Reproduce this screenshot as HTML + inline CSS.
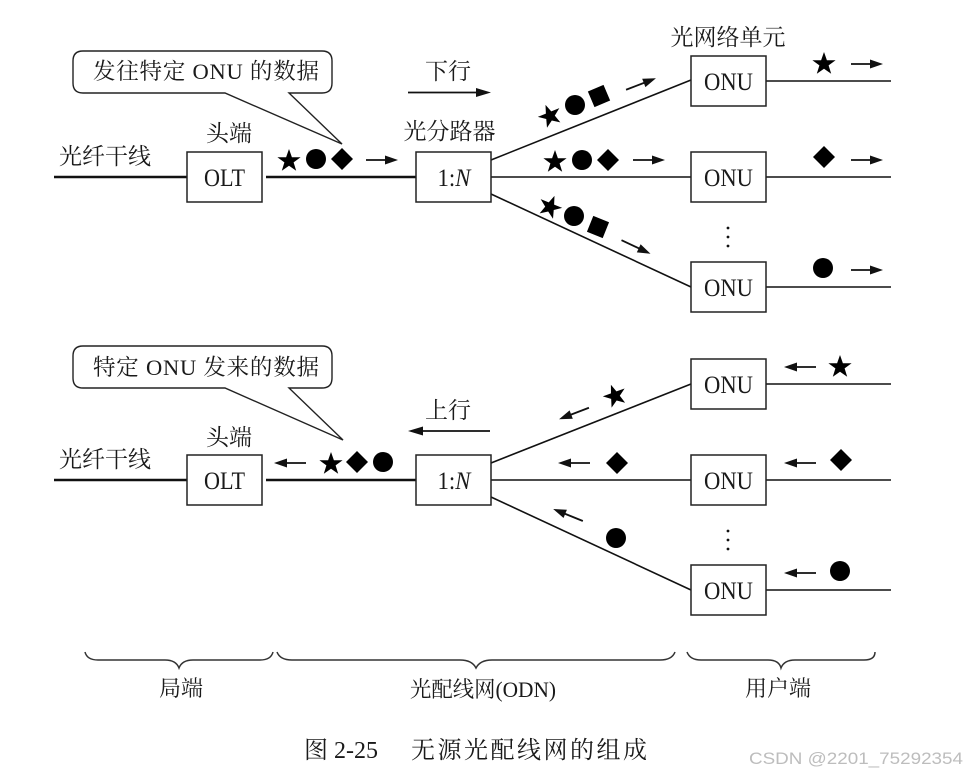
<!DOCTYPE html>
<html><head><meta charset="utf-8"><style>
html,body{margin:0;padding:0;background:#fff}
svg{display:block}
text{font-family:"Liberation Serif","Noto Serif CJK SC",serif;fill:#1a1a1a;font-size:23px}
.m{text-anchor:middle}
.n{font-size:25px}
.l{stroke:#111;fill:none;stroke-width:1.6}
.t{stroke:#111;fill:none;stroke-width:2.6}
.b{stroke:#222;fill:#fff;stroke-width:1.5}
.c{stroke:#333;fill:none;stroke-width:1.5}
</style></head><body>
<svg width="966" height="775" viewBox="0 0 966 775" xmlns="http://www.w3.org/2000/svg">
<defs>
<polygon id="s" points="0,-12 2.9,-3.8 11.6,-3.8 4.6,1.4 7.2,9.8 0,4.8 -7.2,9.8 -4.6,1.4 -11.6,-3.8 -2.9,-3.8" fill="#000"/>
<circle id="o" r="10" fill="#000"/>
<polygon id="d" points="0,-11 11,0 0,11 -11,0" fill="#000"/>
<g id="a"><line x1="-16" y1="0" x2="6" y2="0" stroke="#111" stroke-width="1.8"/><polygon points="3,-4.500 16,0 3,4.500" fill="#111"/></g>
<path id="box" d="M0 0h75v50h-75z" class="b"/>
</defs>

<!-- TOP -->
<path d="M83 51H322Q332 51 332 61V83Q332 93 322 93H289L342 144L225 93H83Q73 93 73 83V61Q73 51 83 51Z" fill="#fff" stroke="#222" stroke-width="1.4"/>
<text x="93" y="79" style="font-size:22.5px" textLength="226">发往特定 ONU 的数据</text>
<text x="448" y="79" class="m">下行</text>
<line x1="408" y1="92.500" x2="480" y2="92.500" stroke="#111" stroke-width="1.8"/><polygon points="476,88 491,92.500 476,97" fill="#111"/>
<text x="229" y="141" class="m">头端</text>
<text x="105" y="164" class="m">光纤干线</text>
<text x="449.500" y="139" class="m">光分路器</text>
<text x="728" y="45" class="m">光网络单元</text>

<line x1="54" y1="177" x2="187" y2="177" class="t"/>
<line x1="266" y1="177" x2="416" y2="177" class="t"/>
<line x1="491" y1="160" x2="691" y2="80" class="l"/>
<line x1="491" y1="177" x2="691" y2="177" class="l"/>
<line x1="491" y1="194" x2="691" y2="287" class="l"/>
<line x1="766" y1="81" x2="891" y2="81" class="l"/>
<line x1="766" y1="177" x2="891" y2="177" class="l"/>
<line x1="766" y1="287" x2="891" y2="287" class="l"/>

<use href="#box" x="187" y="152"/><text x="224.500" y="186" class="m n" textLength="41" lengthAdjust="spacingAndGlyphs">OLT</text>
<use href="#box" x="416" y="152"/><text x="454" y="186" class="m n" textLength="33" lengthAdjust="spacingAndGlyphs">1:<tspan font-style="italic">N</tspan></text>
<use href="#box" x="691" y="56"/><text x="728.500" y="90" class="m n" textLength="49" lengthAdjust="spacingAndGlyphs">ONU</text>
<use href="#box" x="691" y="152"/><text x="728.500" y="186" class="m n" textLength="49" lengthAdjust="spacingAndGlyphs">ONU</text>
<use href="#box" x="691" y="262"/><text x="728.500" y="296" class="m n" textLength="49" lengthAdjust="spacingAndGlyphs">ONU</text>

<use href="#s" x="289" y="161"/><use href="#o" x="316" y="159"/><use href="#d" x="342" y="159"/>
<use href="#a" x="382" y="160"/>
<g transform="translate(550,116) rotate(-22)"><use href="#s"/></g>
<use href="#o" x="575" y="105"/>
<g transform="translate(599,96) rotate(-23) scale(.85)"><rect x="-10" y="-10" width="20" height="20" fill="#000"/></g>
<g transform="translate(641,84) rotate(-21)"><use href="#a"/></g>
<use href="#s" x="555" y="162"/><use href="#o" x="582" y="160"/><use href="#d" x="608" y="160"/>
<use href="#a" x="649" y="160"/>
<g transform="translate(550,207) rotate(22)"><use href="#s"/></g>
<use href="#o" x="574" y="216"/>
<g transform="translate(598,227) rotate(22) scale(.85)"><rect x="-10" y="-10" width="20" height="20" fill="#000"/></g>
<g transform="translate(636,247) rotate(25)"><use href="#a"/></g>
<use href="#s" x="824" y="64"/><use href="#a" x="867" y="64"/>
<use href="#d" x="824" y="157"/><use href="#a" x="867" y="160"/>
<use href="#o" x="823" y="268"/><use href="#a" x="867" y="270"/>
<g fill="#111"><circle cx="728" cy="228" r="1.4"/><circle cx="728" cy="237" r="1.4"/><circle cx="728" cy="246" r="1.4"/></g>

<!-- BOTTOM -->
<path d="M83 346H322Q332 346 332 356V378Q332 388 322 388H289L343 440L225 388H83Q73 388 73 378V356Q73 346 83 346Z" fill="#fff" stroke="#222" stroke-width="1.4"/>
<text x="93" y="375" style="font-size:22.5px" textLength="226">特定 ONU 发来的数据</text>
<text x="448" y="418" class="m">上行</text>
<line x1="418" y1="431" x2="490" y2="431" stroke="#111" stroke-width="1.8"/><polygon points="423,426.500 408,431 423,435.500" fill="#111"/>
<text x="229" y="445" class="m">头端</text>
<text x="105" y="467" class="m">光纤干线</text>

<line x1="54" y1="480" x2="187" y2="480" class="t"/>
<line x1="266" y1="480" x2="416" y2="480" class="t"/>
<line x1="491" y1="463" x2="691" y2="384" class="l"/>
<line x1="491" y1="480" x2="691" y2="480" class="l"/>
<line x1="491" y1="497" x2="691" y2="590" class="l"/>
<line x1="766" y1="384" x2="891" y2="384" class="l"/>
<line x1="766" y1="480" x2="891" y2="480" class="l"/>
<line x1="766" y1="590" x2="891" y2="590" class="l"/>

<use href="#box" x="187" y="455"/><text x="224.500" y="489" class="m n" textLength="41" lengthAdjust="spacingAndGlyphs">OLT</text>
<use href="#box" x="416" y="455"/><text x="454" y="489" class="m n" textLength="33" lengthAdjust="spacingAndGlyphs">1:<tspan font-style="italic">N</tspan></text>
<use href="#box" x="691" y="359"/><text x="728.500" y="393" class="m n" textLength="49" lengthAdjust="spacingAndGlyphs">ONU</text>
<use href="#box" x="691" y="455"/><text x="728.500" y="489" class="m n" textLength="49" lengthAdjust="spacingAndGlyphs">ONU</text>
<use href="#box" x="691" y="565"/><text x="728.500" y="599" class="m n" textLength="49" lengthAdjust="spacingAndGlyphs">ONU</text>

<g transform="translate(290,463) scale(-1,1)"><use href="#a"/></g>
<use href="#s" x="331" y="464"/><use href="#d" x="357" y="462"/><use href="#o" x="383" y="462"/>
<g transform="translate(574,413.500) rotate(-21) scale(-1,1)"><use href="#a"/></g>
<g transform="translate(615,396) rotate(-20)"><use href="#s"/></g>
<g transform="translate(574,463) scale(-1,1)"><use href="#a"/></g>
<use href="#d" x="617" y="463"/>
<g transform="translate(568,515) rotate(22) scale(-1,1)"><use href="#a"/></g>
<use href="#o" x="616" y="538"/>
<g transform="translate(800,367) scale(-1,1)"><use href="#a"/></g>
<use href="#s" x="840" y="367"/>
<g transform="translate(800,463) scale(-1,1)"><use href="#a"/></g>
<use href="#d" x="841" y="460"/>
<g transform="translate(800,573) scale(-1,1)"><use href="#a"/></g>
<use href="#o" x="840" y="571"/>
<g fill="#111"><circle cx="728" cy="531" r="1.4"/><circle cx="728" cy="540" r="1.4"/><circle cx="728" cy="549" r="1.4"/></g>

<!-- Braces -->
<path class="c" d="M85 652Q87 660 98 660H165Q176 660 179 668Q182 660 193 660H260Q271 660 273 652"/>
<path class="c" d="M277 652Q280 660 292 660H460Q472 660 476 668Q480 660 492 660H660Q672 660 675 652"/>
<path class="c" d="M687 652Q690 660 701 660H768Q779 660 781 668Q784 660 795 660H864Q875 660 875 652"/>
<text x="181" y="696" class="m" style="font-size:22px">局端</text>
<text x="483" y="697" class="m" style="font-size:22px" textLength="146" lengthAdjust="spacingAndGlyphs">光配线网(ODN)</text>
<text x="778" y="696" class="m" style="font-size:22px">用户端</text>
<text x="304" y="758" style="font-size:24px" textLength="74" lengthAdjust="spacingAndGlyphs">图 2-25</text>
<text x="411" y="758" style="font-size:24px" textLength="236">无源光配线网的组成</text>
<text x="749" y="764" style="font-family:'Liberation Sans',sans-serif;font-size:17px;fill:#bdbdbd" textLength="214" lengthAdjust="spacingAndGlyphs">CSDN @2201_75292354</text>
</svg>
</body></html>
